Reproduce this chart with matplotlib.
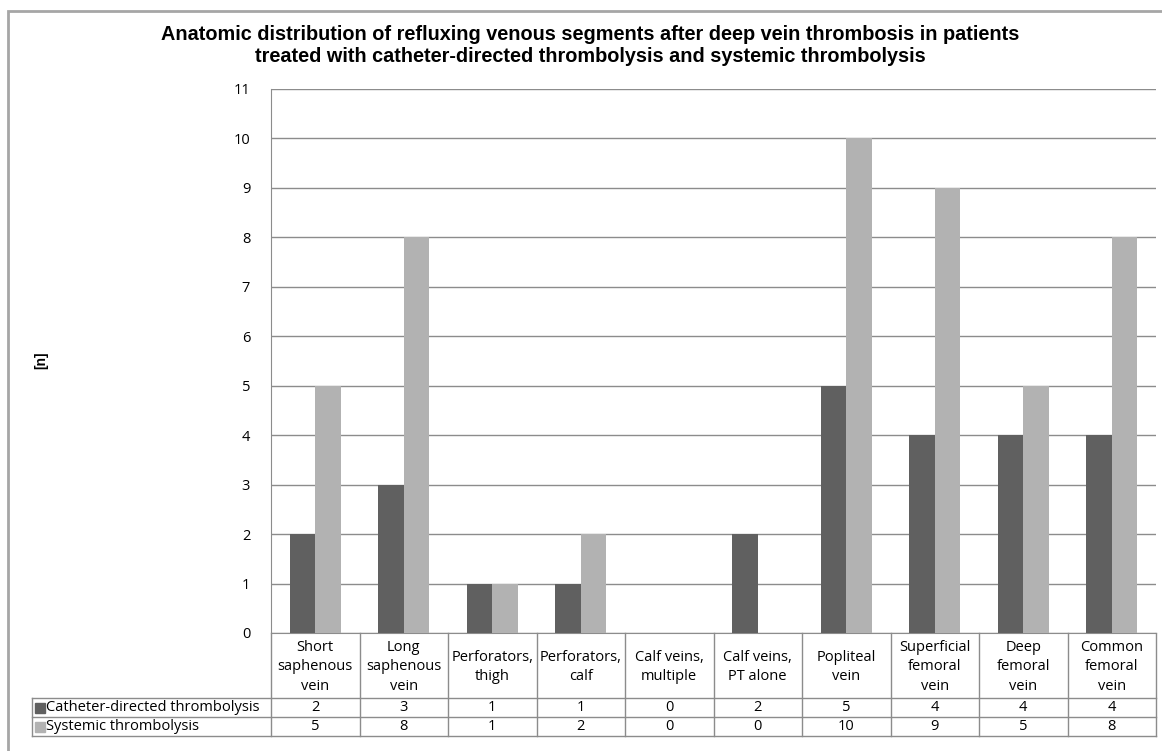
import numpy as np
import matplotlib.pyplot as plt
from matplotlib.lines import Line2D
from matplotlib.patches import Rectangle

# segment labels and counts per treatment group
segments = [
    "Short\nsaphenous\nvein", "Long\nsaphenous\nvein", "Perforators,\nthigh",
    "Perforators,\ncalf", "Calf veins,\nmultiple", "Calf veins,\nPT alone",
    "Popliteal\nvein", "Superficial\nfemoral\nvein", "Deep\nfemoral\nvein",
    "Common\nfemoral\nvein",
]
series_names = ["Catheter-directed thrombolysis", "Systemic thrombolysis"]
catheter = [2, 3, 1, 1, 0, 2, 5, 4, 4, 4]
systemic = [5, 8, 1, 2, 0, 0, 10, 9, 5, 8]
yticks = list(range(0, 12))

colors = ["#606060", "#b2b2b2"]
grid_col = "#8c8c8c"
W, H = 1162, 751
tfont = dict(fontfamily="Open Sans", fontsize=10.5)

fig = plt.figure(figsize=(W / 100, H / 100), dpi=100)
ax = fig.add_axes([271 / W, (H - 633) / H, 885 / W, 544 / H])

x = np.arange(len(segments))
bw = 0.29
ax.bar(x - bw / 2, catheter, bw, color=colors[0], zorder=3)
ax.bar(x + bw / 2, systemic, bw, color=colors[1], zorder=3)

ax.set_xlim(-0.5, len(segments) - 0.5)
ax.set_ylim(0, 11)
ax.set_yticks(yticks)
ax.set_yticklabels([str(t) for t in yticks], fontfamily="Open Sans", fontsize=10.5)
ax.tick_params(axis="y", length=0, pad=15)
ax.set_xticks([])
ax.grid(axis="y", color=grid_col, linewidth=1, zorder=0)
for s in ["top", "right"]:
    ax.spines[s].set_visible(False)
ax.spines["left"].set_color(grid_col)
ax.spines["bottom"].set_color(grid_col)

# data table under the axis, laid out in pixel rows
def fy(py):
    return (H - py) / H

def fx(px):
    return px / W

row_tops = [633, 698, 717, 736]
cat_edges = np.arange(len(segments) + 1) - 0.5
to_fig = ax.transData + fig.transFigure.inverted()
edge_fx = [to_fig.transform((e, 0))[0] for e in cat_edges]
tbl_left = 32

lines = []
for e in edge_fx:
    lines.append(Line2D([e, e], [fy(row_tops[0]), fy(row_tops[-1])]))
lines.append(Line2D([fx(tbl_left), fx(tbl_left)], [fy(row_tops[1]), fy(row_tops[-1])]))
for py in row_tops[1:]:
    lines.append(Line2D([fx(tbl_left), edge_fx[-1]], [fy(py), fy(py)]))
for ln in lines:
    ln.set_color(grid_col)
    ln.set_linewidth(1)
    ln.set_transform(fig.transFigure)
    fig.add_artist(ln)

for i, lab in enumerate(segments):
    cx = (edge_fx[i] + edge_fx[i + 1]) / 2
    fig.text(cx, fy(667), lab, ha="center", va="center", linespacing=1.4,
             **tfont)

for r, (name, vals) in enumerate(zip(series_names, [catheter, systemic])):
    cy = fy((row_tops[r + 1] + row_tops[r + 2]) / 2)
    fig.add_artist(Rectangle((fx(35), cy - 5 / H), 10 / W, 10 / H,
                             color=colors[r], transform=fig.transFigure))
    fig.text(fx(46), cy, name, ha="left", va="center", **tfont)
    for i, v in enumerate(vals):
        cx = (edge_fx[i] + edge_fx[i + 1]) / 2
        fig.text(cx, cy, str(v), ha="center", va="center", **tfont)

fig.text(fx(590), fy(45),
         "Anatomic distribution of refluxing venous segments after deep vein thrombosis in patients\n"
         "treated with catheter-directed thrombolysis and systemic thrombolysis",
         ha="center", va="center", fontfamily="Liberation Sans", fontweight="bold",
         fontsize=14.3, linespacing=1.2)

fig.text(fx(41), fy(360), "[n]", rotation=90, ha="center", va="center",
         fontfamily="Liberation Sans", fontweight="bold", fontsize=10)

# outer chart border
fig.add_artist(Rectangle((fx(8), -0.01), 1.02, fy(11) + 0.01, fill=False,
                         edgecolor="#a6a6a6", linewidth=2,
                         transform=fig.transFigure))

fig.savefig("out.png", dpi=100)
